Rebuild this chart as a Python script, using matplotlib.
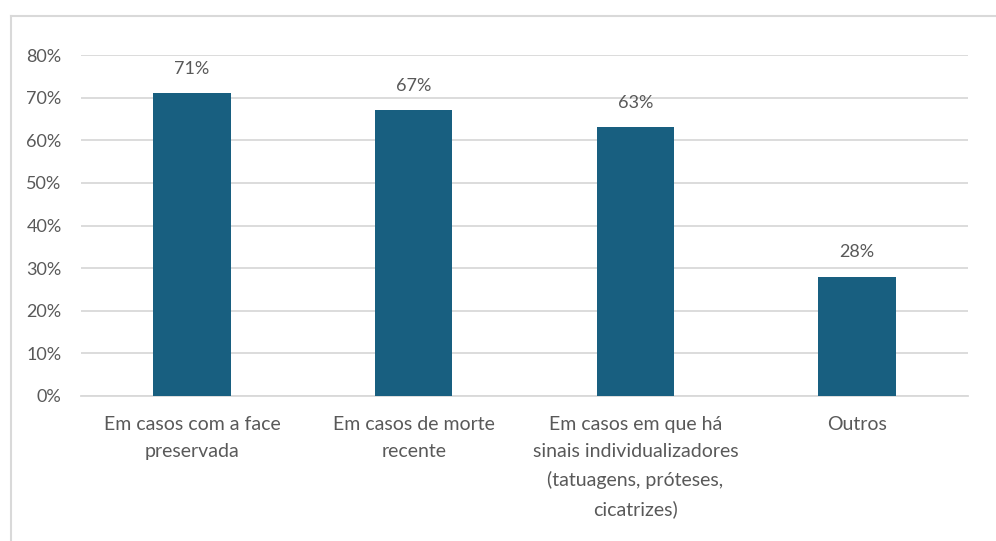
import matplotlib
matplotlib.use("Agg")
import matplotlib.pyplot as plt
from matplotlib.lines import Line2D
from matplotlib.ticker import PercentFormatter

categories = [
    "Em casos com a face\npreservada",
    "Em casos de morte\nrecente",
    "Em casos em que há\nsinais individualizadores\n(tatuagens, próteses,\ncicatrizes)",
    "Outros",
]
values = [0.71, 0.67, 0.63, 0.28]
labels = ["71%", "67%", "63%", "28%"]
yticks = [0, 0.1, 0.2, 0.3, 0.4, 0.5, 0.6, 0.7, 0.8]

bar_color = "#185F80"
text_color = "#595959"
grid_color = "#D9D9D9"

plt.rcParams['font.family'] = ['Lato', 'DejaVu Sans']

fig = plt.figure(figsize=(9.96, 5.41), dpi=100)
ax = fig.add_axes([81 / 996, 1 - 396 / 541, (968 - 81) / 996, (396 - 55) / 541])

x = range(len(categories))
ax.bar(x, values, width=0.35, color=bar_color, zorder=3)

for xi, v, lab in zip(x, values, labels):
    ax.annotate(lab, (xi, v), xytext=(0, 12), textcoords="offset points",
                ha="center", va="bottom", fontsize=13, color=text_color)

ax.set_xlim(-0.5, len(categories) - 0.5)
ax.set_ylim(0, 0.8)
ax.set_yticks(yticks)
ax.yaxis.set_major_formatter(PercentFormatter(1.0, decimals=0))
ax.set_xticks(list(x))
ax.set_xticklabels(categories, linespacing=1.72)

ax.tick_params(axis="y", length=0, pad=14, labelsize=13, labelcolor=text_color)
ax.tick_params(axis="x", length=0, pad=14.5, labelsize=14, labelcolor=text_color)
ax.grid(axis="y", color=grid_color, linewidth=1.3, zorder=0)
for side in ["top", "right", "left"]:
    ax.spines[side].set_visible(False)
ax.spines["bottom"].set_color(grid_color)
ax.spines["bottom"].set_linewidth(1.3)

# outer chart frame (cut off at right and bottom)
top = 1 - 16 / 541
left = 11 / 996
fig.add_artist(Line2D([left, 1], [top, top], transform=fig.transFigure, color=grid_color, lw=1.5))
fig.add_artist(Line2D([left, left], [0, top], transform=fig.transFigure, color=grid_color, lw=1.5))

fig.savefig("out.png", dpi=100, facecolor="white")
